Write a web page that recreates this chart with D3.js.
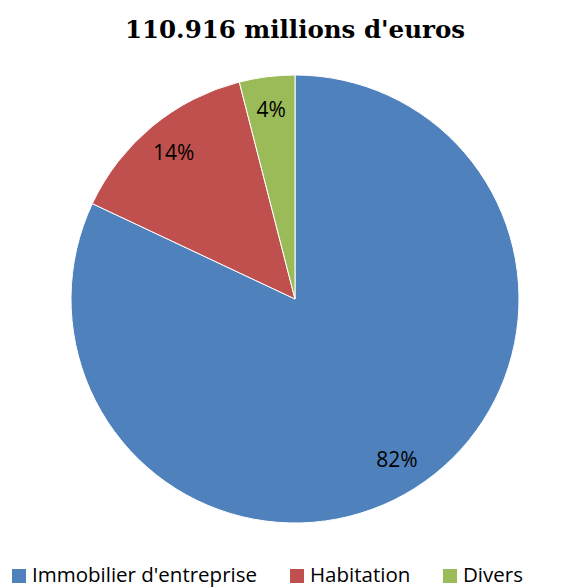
<!DOCTYPE html>
<html><head><meta charset="utf-8">
<script src="https://cdn.jsdelivr.net/npm/d3@7"></script>
<style>html,body{margin:0;padding:0;background:#fff;}</style>
</head><body>
<svg id="chart" width="586" height="588"></svg>
<script>
const title = "110.916 millions d'euros";
const categories = ["Immobilier d'entreprise", "Habitation", "Divers"];
const values = [82, 14, 4];
const labels = ["82%", "14%", "4%"];
const colors = ["#4F81BD", "#C0504D", "#9BBB59"];

const svg = d3.select("#chart");
const cx = 295, cy = 299, r = 224;

svg.append("text").attr("x", 295).attr("y", 38)
  .attr("text-anchor", "middle")
  .attr("font-family", "'DejaVu Serif', 'Liberation Serif', serif")
  .attr("font-weight", "bold").attr("font-size", 24.5)
  .attr("fill", "#000").text(title);

const pie = d3.pie().sort(null).value(d => d)(values);
const arc = d3.arc().innerRadius(0).outerRadius(r);
const labelArc = d3.arc().innerRadius(r * 0.85).outerRadius(r * 0.85);

const g = svg.append("g").attr("transform", `translate(${cx},${cy})`);
g.selectAll("path").data(pie).join("path")
  .attr("d", arc).attr("fill", (d, i) => colors[i])
  .attr("stroke", "#fff").attr("stroke-width", 1);

g.selectAll("text").data(pie).join("text")
  .attr("transform", d => `translate(${labelArc.centroid(d)})`)
  .attr("text-anchor", "middle").attr("dy", "0.35em")
  .attr("font-family", "'Open Sans', 'Noto Sans', sans-serif")
  .attr("font-size", 21).attr("fill", "#000")
  .text((d, i) => labels[i]);

const legendX = [12, 290, 443];
const lg = svg.append("g");
categories.forEach((c, i) => {
  lg.append("rect").attr("x", legendX[i]).attr("y", 569).attr("width", 14).attr("height", 14)
    .attr("fill", colors[i]);
  lg.append("text").attr("x", legendX[i] + 20).attr("y", 582)
    .attr("font-family", "'Open Sans', 'Noto Sans', sans-serif")
    .attr("font-size", 20.5).attr("fill", "#000").text(c);
});
</script>
</body></html>
